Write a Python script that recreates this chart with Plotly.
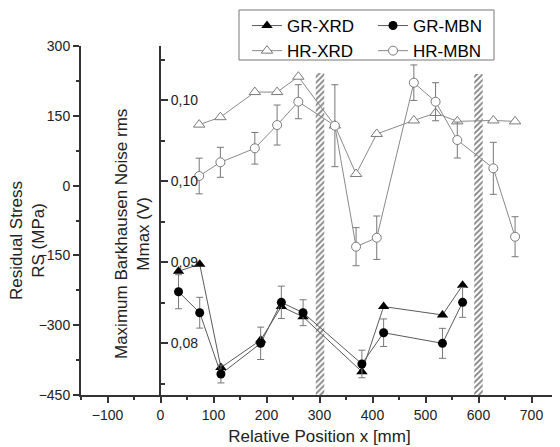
import plotly.graph_objects as go

# ---- data ----
gr_x = [34, 74, 114, 189, 228, 269, 380, 421, 532, 570]
gr_xrd = [-184, -169, -391, -332, -260, -282, -400, -260, -278, -214]           # MPa
gr_mbn = [0.08633, 0.08374, 0.07617, 0.07996, 0.08502, 0.08374, 0.07741, 0.08127, 0.07996, 0.08502]  # V
gr_mbn_err = [0.0021, 0.0019, 0.0011, 0.0020, 0.0020, 0.0016, 0.0017, 0.0017, 0.00185, 0.00185]

hr_x = [73, 113, 178, 220, 260, 329, 369, 408, 478, 519, 560, 628, 669]
hr_xrd = [131, 147, 201, 201, 234, 129, 25, 111, 140, 156, 138, 140, 138]       # MPa
hr_mbn = [0.10062, 0.10231, 0.10404, 0.10691, 0.10979, 0.10683, 0.09189, 0.09300,
          0.11214, 0.10979, 0.10506, 0.10157, 0.09312]                           # V
hr_mbn_err = [0.0022, 0.00185, 0.00195, 0.00247, 0.0021, 0.00506, 0.00235, 0.00268,
              0.00219, 0.00235, 0.00222, 0.00321, 0.00247]

hatch_x = [301, 600]
hatch_top = [242, 240]
hatch_base = -450

x_ticks = [-100, 0, 100, 200, 300, 400, 500, 600, 700]
rs_ticks = [-450, -300, -150, 0, 150, 300]
mbn_ticks = [0.08, 0.09, 0.10, 0.11]
mbn_ticktext = ["0,08", "0,09", "0,10", "0,10"]
mbn_minor = [0.075, 0.085, 0.095, 0.105, 0.115]

FONT = "Liberation Sans, Arial, sans-serif"
AX = "#333333"

fig = go.Figure()

fig.add_trace(go.Bar(
    x=hatch_x, y=[t - hatch_base for t in hatch_top], base=hatch_base, width=16,
    marker=dict(color="white", line=dict(width=0),
                pattern=dict(shape="/", fgcolor="black", bgcolor="white", size=4, solidity=0.45)),
    showlegend=False, hoverinfo="skip"))

fig.add_trace(go.Scatter(
    x=gr_x, y=gr_xrd, name="GR-XRD", mode="lines+markers", legend="legend",
    line=dict(color="#5a5a5a", width=1),
    marker=dict(symbol="triangle-up", size=10, color="black")))

fig.add_trace(go.Scatter(
    x=hr_x, y=hr_xrd, name="HR-XRD", mode="lines+markers", legend="legend",
    line=dict(color="#8a8a8a", width=1),
    marker=dict(symbol="triangle-up", size=10, color="white", line=dict(color="#7a7a7a", width=1))))

fig.add_trace(go.Scatter(
    x=gr_x, y=gr_mbn, name="GR-MBN", mode="lines+markers", yaxis="y2", legend="legend2",
    line=dict(color="#5a5a5a", width=1),
    marker=dict(symbol="circle", size=9, color="black"),
    error_y=dict(type="data", array=gr_mbn_err, color="#777777", thickness=1, width=3.5)))

fig.add_trace(go.Scatter(
    x=hr_x, y=hr_mbn, name="HR-MBN", mode="lines+markers", yaxis="y2", legend="legend2",
    line=dict(color="#8a8a8a", width=1),
    marker=dict(symbol="circle", size=9, color="white", line=dict(color="#7a7a7a", width=1)),
    error_y=dict(type="data", array=hr_mbn_err, color="#777777", thickness=1, width=3.5)))

# the page body adds an 8px offset; compensate so the plot lands where the reference has it
OFF = 8
W, H = 560 - OFF, 447 - OFF
L, R, T, B = 81 - OFF, 2, 46 - OFF, 52
pw = W - L - R   # 477
ph = H - T - B   # 349


def px_x(x):  # reference pixel -> paper fraction
    return (x - 81) / pw


def px_y(y):
    return (395 - y) / ph


leg_common = dict(orientation="v", xanchor="left", yanchor="top", borderwidth=0,
                  bgcolor="rgba(0,0,0,0)", tracegroupgap=0,
                  font=dict(family=FONT, size=17, color="black"))

fig.update_layout(
    width=W, height=H, margin=dict(l=L, r=R, t=T, b=B, autoexpand=False),
    paper_bgcolor="white", plot_bgcolor="white",
    font=dict(family=FONT, size=14, color="#222222"),
    showlegend=True,
    legend=dict(x=px_x(247), y=px_y(8), **leg_common),
    legend2=dict(x=px_x(373), y=px_y(8), **leg_common),
    xaxis=dict(range=[-150, 750], tickvals=x_ticks, ticks="outside", ticklen=6, tickwidth=1.5,
               tickcolor=AX, showline=True, linecolor=AX, linewidth=2, showgrid=False,
               zeroline=False, tickfont=dict(size=14), automargin=False,
               minor=dict(dtick=50, tick0=0, ticklen=3, tickwidth=1.5, tickcolor=AX, ticks="outside"),
               title=dict(text="Relative Position x [mm]", font=dict(size=17), standoff=8)),
    yaxis=dict(range=[-450, 300], tickvals=rs_ticks, ticks="outside", ticklen=6, tickwidth=1.5,
               tickcolor=AX, showline=True, linecolor=AX, linewidth=2, showgrid=False,
               zeroline=False, tickfont=dict(size=14), automargin=False,
               minor=dict(dtick=75, tick0=0, ticklen=3, tickwidth=1.5, tickcolor=AX, ticks="outside")),
    yaxis2=dict(overlaying="y", anchor="free", position=px_x(160), side="right",
                range=[0.07358, 0.11667], tickvals=mbn_ticks, ticktext=mbn_ticktext,
                ticks="outside", ticklen=7, tickwidth=1.5, tickcolor=AX, automargin=False,
                showline=True, linecolor=AX, linewidth=2, showgrid=False, zeroline=False,
                tickfont=dict(size=14),
                minor=dict(tickvals=mbn_minor, ticklen=4, tickwidth=1.5, tickcolor=AX, ticks="outside")),
)

# legend frame
fig.add_shape(type="rect", xref="paper", yref="paper",
              x0=px_x(239), x1=px_x(494), y0=px_y(60), y1=px_y(10),
              line=dict(color="#777777", width=1), fillcolor="white", layer="above")

fig.add_annotation(text="Residual Stress<br>RS (MPa)", textangle=-90, xref="paper", yref="paper",
                   x=px_x(27), y=px_y(241), showarrow=False,
                   font=dict(family=FONT, size=17, color="#222222"), xanchor="center", yanchor="middle")
fig.add_annotation(text="Maximum Barkhausen Noise rms<br>Mmax (V)", textangle=-90, xref="paper", yref="paper",
                   x=px_x(132), y=px_y(234), showarrow=False,
                   font=dict(family=FONT, size=17, color="#222222"), xanchor="center", yanchor="middle")

fig.write_html("out.html")
